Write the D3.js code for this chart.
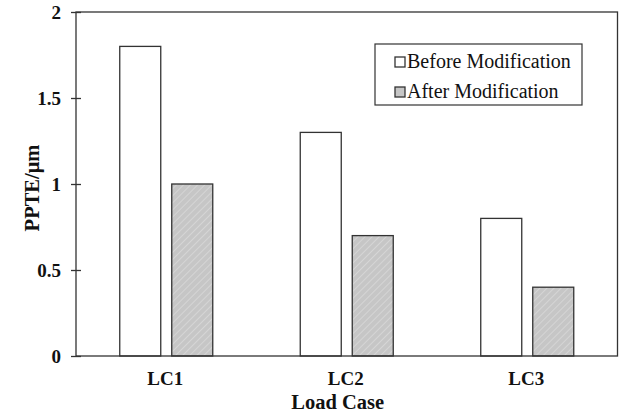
<!DOCTYPE html>
<html><head><meta charset="utf-8">
<script src="https://cdn.jsdelivr.net/npm/d3@7"></script>
<style>body{margin:0;background:#fff}svg{display:block}</style>
</head><body>
<svg id="c" width="621" height="413"></svg>
<script>
const categories = ["LC1", "LC2", "LC3"];
const seriesNames = ["Before Modification", "After Modification"];
const beforeValues = [1.8, 1.3, 0.8];
const afterValues = [1.0, 0.7, 0.4];
const yTicks = [0, 0.5, 1, 1.5, 2];

const svg = d3.select("#c");
const m = {l: 76, t: 12, r: 3.5, b: 57};
const W = 621, H = 413;
const x = d3.scaleBand().domain(categories).range([m.l, W - m.r]).paddingInner(0).paddingOuter(0);
const y = d3.scaleLinear().domain([0, 2]).range([H - m.b, m.t]);
const serif = "'Liberation Serif', 'Times New Roman', serif";

const defs = svg.append("defs");
const pat = defs.append("pattern").attr("id", "hatch").attr("patternUnits", "userSpaceOnUse")
  .attr("width", 5).attr("height", 5).attr("patternTransform", "rotate(45)");
pat.append("rect").attr("width", 5).attr("height", 5).attr("fill", "#c6c6c6");
pat.append("line").attr("x1", 0).attr("y1", 0).attr("x2", 0).attr("y2", 5).attr("stroke", "#dadada").attr("stroke-width", 1.5);

const data = categories.map((c, i) => ({c, vals: [beforeValues[i], afterValues[i]]}));
const barW = 41, gap = 11;
const fills = ["#ffffff", "url(#hatch)"];

data.forEach(d => {
  const cx = x(d.c) + x.bandwidth() / 2;
  d.vals.forEach((v, j) => {
    const x0 = j === 0 ? cx - gap / 2 - barW : cx + gap / 2;
    svg.append("rect").attr("x", x0).attr("y", y(v)).attr("width", barW).attr("height", y(0) - y(v))
      .attr("fill", fills[j]).attr("stroke", "#333").attr("stroke-width", 1.3);
  });
});

// frame
svg.append("rect").attr("x", m.l).attr("y", m.t).attr("width", W - m.r - m.l).attr("height", y(0) - m.t)
  .attr("fill", "none").attr("stroke", "#333").attr("stroke-width", 1.3);

// y axis
const yAxis = d3.axisLeft(y).tickValues(yTicks).tickSize(5).tickFormat(d3.format("~g"));
const ga = svg.append("g").attr("transform", `translate(${m.l},0)`).call(yAxis);
ga.select(".domain").remove();
ga.selectAll(".tick line").attr("x2", 5).attr("x1", -5).attr("stroke", "#333").attr("stroke-width", 1.3);
ga.selectAll(".tick text").attr("font-family", serif).attr("font-weight", "bold").attr("font-size", 19)
  .attr("fill", "#111").attr("x", -15).attr("dy", null).attr("y", 6.5);

// x axis labels
const xAxis = d3.axisBottom(x).tickSize(0);
const gx = svg.append("g").attr("transform", `translate(0,${y(0)})`).call(xAxis);
gx.select(".domain").remove();
gx.selectAll(".tick text").attr("font-family", serif).attr("font-weight", "bold").attr("font-size", 19)
  .attr("fill", "#111").attr("dy", null).attr("y", 29).attr("x", -1);

svg.append("text").attr("x", x("LC2") + x.bandwidth() / 2 - 9).attr("y", 409).attr("text-anchor", "middle")
  .attr("font-family", serif).attr("font-weight", "bold").attr("font-size", 20.5).attr("fill", "#111").text("Load Case");
svg.append("text").attr("transform", `translate(39,${(y(0) + m.t) / 2 + 4}) rotate(-90)`).attr("text-anchor", "middle")
  .attr("font-family", serif).attr("font-weight", "bold").attr("font-size", 20.5).attr("fill", "#111").text("PPTE/μm");

// legend
const lg = svg.append("g");
lg.append("rect").attr("x", 375).attr("y", 44).attr("width", 207).attr("height", 61).attr("fill", "#fff").attr("stroke", "#333").attr("stroke-width", 1.2);
seriesNames.forEach((s, i) => {
  const yy = 62 + i * 30;
  lg.append("rect").attr("x", 395).attr("y", yy - 5).attr("width", 10).attr("height", 10)
    .attr("fill", i === 0 ? "#fff" : "#c6c6c6").attr("stroke", "#333").attr("stroke-width", 1.3);
  lg.append("text").attr("x", 407).attr("y", yy + 5.7).attr("font-family", serif).attr("font-size", 20).attr("fill", "#111").text(s);
});
</script>
</body></html>
